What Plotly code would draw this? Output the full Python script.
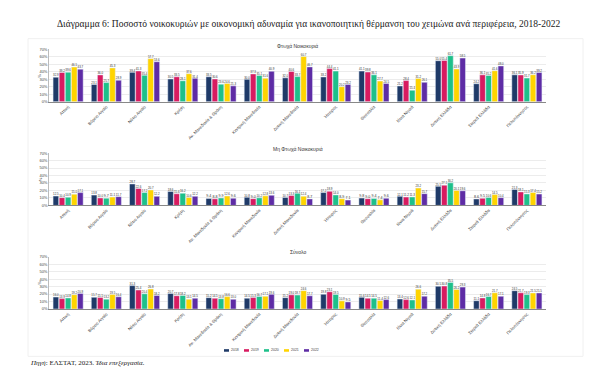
import plotly.graph_objects as go

regions = ["Αττική", "Βόρειο Αιγαίο", "Νότιο Αιγαίο", "Κρήτη", "Αν. Μακεδονία & Θράκη",
           "Κεντρική Μακεδονία", "Δυτική Μακεδονία", "Ήπειρος", "Θεσσαλία", "Ιόνια Νησιά",
           "Δυτική Ελλάδα", "Στερεά Ελλάδα", "Πελοπόννησος"]
years = ["2018", "2019", "2020", "2021", "2022"]
colors = ["#1f3a68", "#d81b60", "#1ec08a", "#ffd400", "#5e2ca5"]

# Poor households, per year (order of regions above)
poor_2018 = [32.9, 23.1, 39.4, 30.5, 33.5, 30.0, 32.0, 33.2, 41.1, 21.2, 55.0, 24.2, 36.1]
poor_2019 = [39.2, 36.0, 41.3, 33.5, 30.6, 37.3, 40.6, 44.4, 39.8, 28.4, 55.4, 36.1, 35.9]
poor_2020 = [39.6, 25.7, 35.4, 28.1, 23.6, 35.1, 33.7, 41.1, 36.1, 15.4, 61.7, 35.2, 31.7]
poor_2021 = [46.5, 45.3, 57.7, 37.6, 24.6, 31.6, 60.7, 20.2, 27.7, 31.2, 43.9, 41.6, 36.2]
poor_2022 = [43.7, 28.9, 53.6, 31.4, 21.3, 40.9, 46.7, 23.2, 24.5, 26.1, 58.5, 48.0, 39.2]

# Non-poor households
nonpoor_2018 = [12.5, 13.8, 28.7, 18.6, 9.4, 10.8, 10.7, 17.2, 9.8, 12.1, 25.5, 8.6, 21.3]
nonpoor_2019 = [10.4, 10.0, 22.6, 15.6, 8.8, 9.0, 13.3, 18.9, 9.0, 11.2, 27.1, 9.5, 18.1]
nonpoor_2020 = [10.9, 9.7, 17.2, 16.2, 9.9, 10.2, 16.1, 14.0, 9.4, 11.3, 30.2, 10.6, 15.3]
nonpoor_2021 = [15.0, 11.1, 20.7, 10.6, 12.6, 12.8, 12.4, 8.9, 7.4, 23.2, 20.1, 14.5, 17.4]
nonpoor_2022 = [17.1, 11.7, 12.2, 12.2, 9.6, 13.6, 8.7, 7.1, 9.6, 15.7, 19.6, 10.4, 15.2]

# Total
total_2018 = [16.0, 15.7, 31.3, 20.7, 15.2, 14.5, 15.2, 19.8, 15.6, 13.4, 30.5, 11.1, 24.5]
total_2019 = [13.9, 15.5, 25.4, 17.8, 14.5, 15.3, 19.0, 23.1, 14.5, 12.6, 30.8, 14.8, 21.7]
total_2020 = [14.8, 13.2, 20.4, 18.2, 13.8, 16.7, 18.7, 19.5, 14.5, 12.1, 35.5, 16.7, 19.3]
total_2021 = [19.2, 19.5, 26.8, 13.1, 16.6, 17.1, 24.6, 10.9, 11.4, 26.6, 26.2, 21.7, 21.5]
total_2022 = [20.9, 16.4, 18.2, 14.5, 13.0, 19.6, 17.7, 9.5, 12.6, 17.2, 29.3, 17.1, 21.5]

panels = [
    ("Φτωχά Νοικοκυριά", [poor_2018, poor_2019, poor_2020, poor_2021, poor_2022]),
    ("Μη Φτωχά Νοικοκυριά", [nonpoor_2018, nonpoor_2019, nonpoor_2020, nonpoor_2021, nonpoor_2022]),
    ("Σύνολο", [total_2018, total_2019, total_2020, total_2021, total_2022]),
]

W, H = 600, 378
x0, x1 = 41 / W, 538 / W
# (top px, bottom px, title px)
rows_px = [(39, 92, 35), (144, 197, 140), (249, 302, 244)]

fig = go.Figure()
layout = dict(
    width=W, height=H,
    margin=dict(l=0, r=0, t=0, b=0),
    paper_bgcolor="white", plot_bgcolor="white",
    barmode="group", bargap=0.2, bargroupgap=0.08,
    font=dict(family="Liberation Sans, Arial, sans-serif", size=4, color="#444"),
    showlegend=False,
)

annotations = []
shapes = []
for i, (title, series) in enumerate(panels):
    top, bot, tpx = rows_px[i]
    xa = "x" if i == 0 else f"x{i+1}"
    ya = "y" if i == 0 else f"y{i+1}"
    xkey = "xaxis" if i == 0 else f"xaxis{i+1}"
    ykey = "yaxis" if i == 0 else f"yaxis{i+1}"
    for j, vals in enumerate(series):
        fig.add_trace(go.Bar(
            x=regions, y=vals, name=years[j], marker_color=colors[j],
            text=[f"{v:.1f}" for v in vals], textposition="outside",
            textfont=dict(size=3.6, color="#333"), cliponaxis=False,
            xaxis=xa, yaxis=ya, showlegend=False, legendgroup=years[j],
        ))
    layout[xkey] = dict(domain=[x0, x1], anchor=ya, tickangle=-45,
                        tickfont=dict(size=4.3, color="#444"), showline=True,
                        linecolor="#888", linewidth=0.8, ticks="", showgrid=False)
    layout[ykey] = dict(domain=[1 - bot / H, 1 - top / H], anchor=xa, range=[0, 70],
                        dtick=10, ticksuffix="%", tickfont=dict(size=4, color="#444"),
                        showgrid=True, gridcolor="#ececec", gridwidth=0.5,
                        showline=True, linecolor="#bbb", linewidth=0.5, zeroline=False)
    annotations.append(dict(text=title, x=(x0 + x1) / 2, y=1 - tpx / H, xref="paper",
                            yref="paper", showarrow=False, font=dict(size=5, color="#333"),
                            xanchor="center", yanchor="middle"))
    annotations.append(dict(text="%", x=32 / W, y=1 - ((top + bot) / 2) / H, xref="paper",
                            yref="paper", showarrow=False, textangle=-90,
                            font=dict(size=4, color="#444"), xanchor="center", yanchor="middle"))

# compact legend drawn manually
leg_y = 1 - 344 / H
for j, y in enumerate(years):
    lx = (216 + j * 20) / W
    shapes.append(dict(type="rect", xref="paper", yref="paper",
                       x0=lx, x1=lx + 5 / W, y0=leg_y - 1.3 / H, y1=leg_y + 1.3 / H,
                       fillcolor=colors[j], line=dict(width=0)))
    annotations.append(dict(text=y, x=lx + 6 / W, y=leg_y, xref="paper", yref="paper",
                            showarrow=False, font=dict(size=3.5, color="#444"),
                            xanchor="left", yanchor="middle", borderpad=0))

annotations.append(dict(
    text="Διάγραμμα 6: Ποσοστό νοικοκυριών με οικονομική αδυναμία για ικανοποιητική θέρμανση του χειμώνα ανά περιφέρεια, 2018-2022",
    x=0.5, y=1 - 13 / H, xref="paper", yref="paper", showarrow=False,
    font=dict(family="Liberation Serif, Times New Roman, serif", size=9.5, color="#222"),
    xanchor="center", yanchor="middle"))
annotations.append(dict(
    text="<i>Πηγή</i>: ΕΛΣΤΑΤ, 2023. <i>Ίδια επεξεργασία.</i>",
    x=20 / W, y=1 - 357 / H, xref="paper", yref="paper", showarrow=False,
    font=dict(family="Liberation Serif, Times New Roman, serif", size=7, color="#222"),
    xanchor="left", yanchor="middle"))

shapes.append(dict(type="rect", xref="paper", yref="paper",
                   x0=20 / W, x1=575 / W, y0=1 - 350 / H, y1=1 - 28 / H,
                   line=dict(color="#f0f0f0", width=1), fillcolor="rgba(0,0,0,0)",
                   layer="below"))
layout["annotations"] = annotations
layout["shapes"] = shapes
fig.update_layout(**layout)
fig.write_html("out.html")
